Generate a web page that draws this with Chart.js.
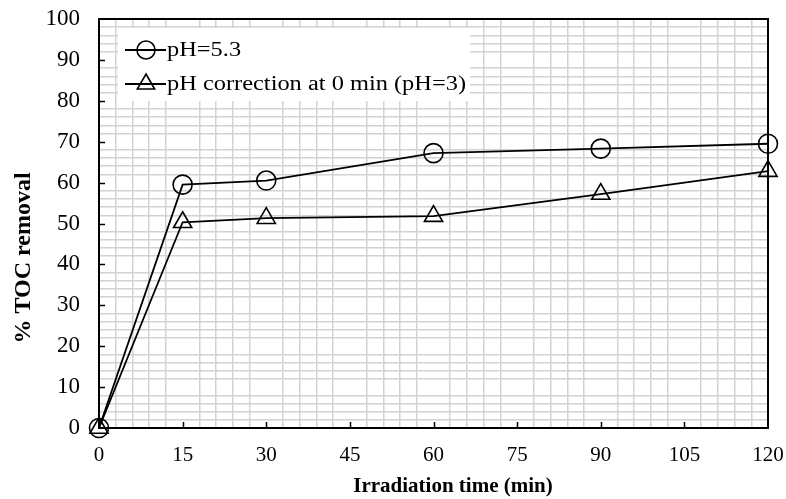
<!DOCTYPE html>
<html>
<head>
<meta charset="utf-8">
<script src="https://cdn.jsdelivr.net/npm/chart.js@4"></script>
<style>
html,body{margin:0;padding:0;background:#fff;}
#wrap{width:786px;height:499px;}
</style>
</head>
<body>
<div id="wrap"><canvas id="c" width="786" height="499"></canvas></div>
<script>
const times = [0, 15, 30, 60, 90, 120];
const ph53 = [0, 59.5, 60.5, 67.2, 68.3, 69.5];
const phCorr = [0, 50.3, 51.3, 51.8, 57.2, 62.8];
const seriesLabels = ['pH=5.3', 'pH correction at 0 min (pH=3)'];
const xTitle = 'Irradiation time (min)';
const yTitle = '% TOC removal';
const xMajor = 15, xMinor = 3, xMax = 120;
const yMajor = 10, yMinor = 2, yMax = 100;

const SERIF = '"Liberation Serif", "Times New Roman", serif';
const GRID = '#d2d2d2';

function pts(vals){ return times.map((t,i)=>({x:t,y:vals[i]})); }

const overlay = {
  id: 'overlay',
  afterDatasetsDraw(chart){
    const {ctx, chartArea:a, scales:{x,y}} = chart;
    ctx.save();
    ctx.strokeStyle = '#000';
    ctx.lineWidth = 1.5;
    ctx.beginPath();
    for(let v=xMajor; v<xMax; v+=xMajor){
      const px = Math.round(x.getPixelForValue(v))+0.5;
      ctx.moveTo(px, a.bottom); ctx.lineTo(px, a.bottom-6);
    }
    for(let v=yMajor; v<yMax; v+=yMajor){
      const py = Math.round(y.getPixelForValue(v))+0.5;
      ctx.moveTo(a.left, py); ctx.lineTo(a.left+6, py);
    }
    ctx.stroke();
    ctx.lineWidth = 2;
    ctx.strokeRect(a.left, a.top, a.right-a.left, a.bottom-a.top);
    ctx.restore();
  },
  afterDraw(chart){
    const {ctx} = chart;
    ctx.save();
    ctx.fillStyle = '#fff';
    ctx.fillRect(118, 28, 352, 73);
    const rows = [50, 84];
    const mx = 146;
    chart.data.datasets.forEach((ds, i)=>{
      const yy = rows[i];
      ctx.strokeStyle = '#000';
      ctx.lineWidth = 1.8;
      ctx.beginPath(); ctx.moveTo(125, yy); ctx.lineTo(166, yy); ctx.stroke();
      ctx.lineWidth = 1.6;
      ctx.beginPath();
      if(ds.pointStyle === 'circle'){
        ctx.arc(mx, yy, 9, 0, Math.PI*2);
      } else {
        const r = 10;
        ctx.moveTo(mx, yy - r);
        ctx.lineTo(mx + r*Math.sin(Math.PI/3), yy + r/2);
        ctx.lineTo(mx - r*Math.sin(Math.PI/3), yy + r/2);
        ctx.closePath();
      }
      ctx.stroke();
      ctx.save();
      ctx.translate(167, yy + 1);
      ctx.scale(1.22, 1);
      ctx.fillStyle = '#000';
      ctx.font = '20px ' + SERIF;
      ctx.textBaseline = 'middle';
      ctx.textAlign = 'left';
      ctx.fillText(ds.label, 0, 0);
      ctx.restore();
    });
    ctx.fillStyle = '#000';
    ctx.textAlign = 'center';
    ctx.textBaseline = 'middle';
    ctx.font = 'bold 21px ' + SERIF;
    ctx.fillText(xTitle, 453, 487);
    ctx.save();
    ctx.translate(24, 258);
    ctx.rotate(-Math.PI/2);
    ctx.font = 'bold 24px ' + SERIF;
    ctx.fillText(yTitle, 0, 0);
    ctx.restore();
    ctx.restore();
  }
};

const common = {
  borderColor: '#000',
  borderWidth: 1.8,
  pointBorderColor: '#000',
  pointBackgroundColor: 'rgba(0,0,0,0)',
  pointBorderWidth: 1.6,
  tension: 0,
  clip: false,
  fill: false
};

function gridColor(major){
  return c => (c.tick && Math.abs(c.tick.value % major) < 1e-9) ? 'rgba(0,0,0,0)' : GRID;
}

new Chart(document.getElementById('c'), {
  type: 'line',
  data: {
    datasets: [
      Object.assign({label: seriesLabels[0], data: pts(ph53), pointStyle: 'circle', pointRadius: 9.5, pointHoverRadius: 9.5}, common),
      Object.assign({label: seriesLabels[1], data: pts(phCorr), pointStyle: 'triangle', pointRadius: 10.5, pointHoverRadius: 10.5}, common)
    ]
  },
  options: {
    responsive: false,
    animation: false,
    events: [],
    layout: {padding: {left: 0, top: 19, right: 18, bottom: 0}},
    plugins: {legend: {display: false}, tooltip: {enabled: false}},
    scales: {
      x: {
        type: 'linear', min: 0, max: xMax,
        afterFit(s){ s.height = 71; s.paddingLeft = 0; s.paddingRight = 0; },
        border: {display: false},
        grid: {color: gridColor(xMajor), lineWidth: 1.5, drawTicks: false},
        ticks: {
          stepSize: xMinor, autoSkip: false, maxRotation: 0, padding: 15,
          color: '#000', font: {family: SERIF, size: 21},
          callback: v => (v % xMajor === 0 ? String(v) : '')
        }
      },
      y: {
        min: 0, max: yMax,
        afterFit(s){ s.width = 99; s.paddingTop = 0; s.paddingBottom = 0; },
        border: {display: false},
        grid: {color: gridColor(yMajor), lineWidth: 1.5, drawTicks: false},
        ticks: {
          stepSize: yMinor, autoSkip: false, padding: 19,
          color: '#000', font: {family: SERIF, size: 23},
          callback: v => (v % yMajor === 0 ? String(v) : '')
        }
      }
    }
  },
  plugins: [overlay]
});
</script>
</body>
</html>
